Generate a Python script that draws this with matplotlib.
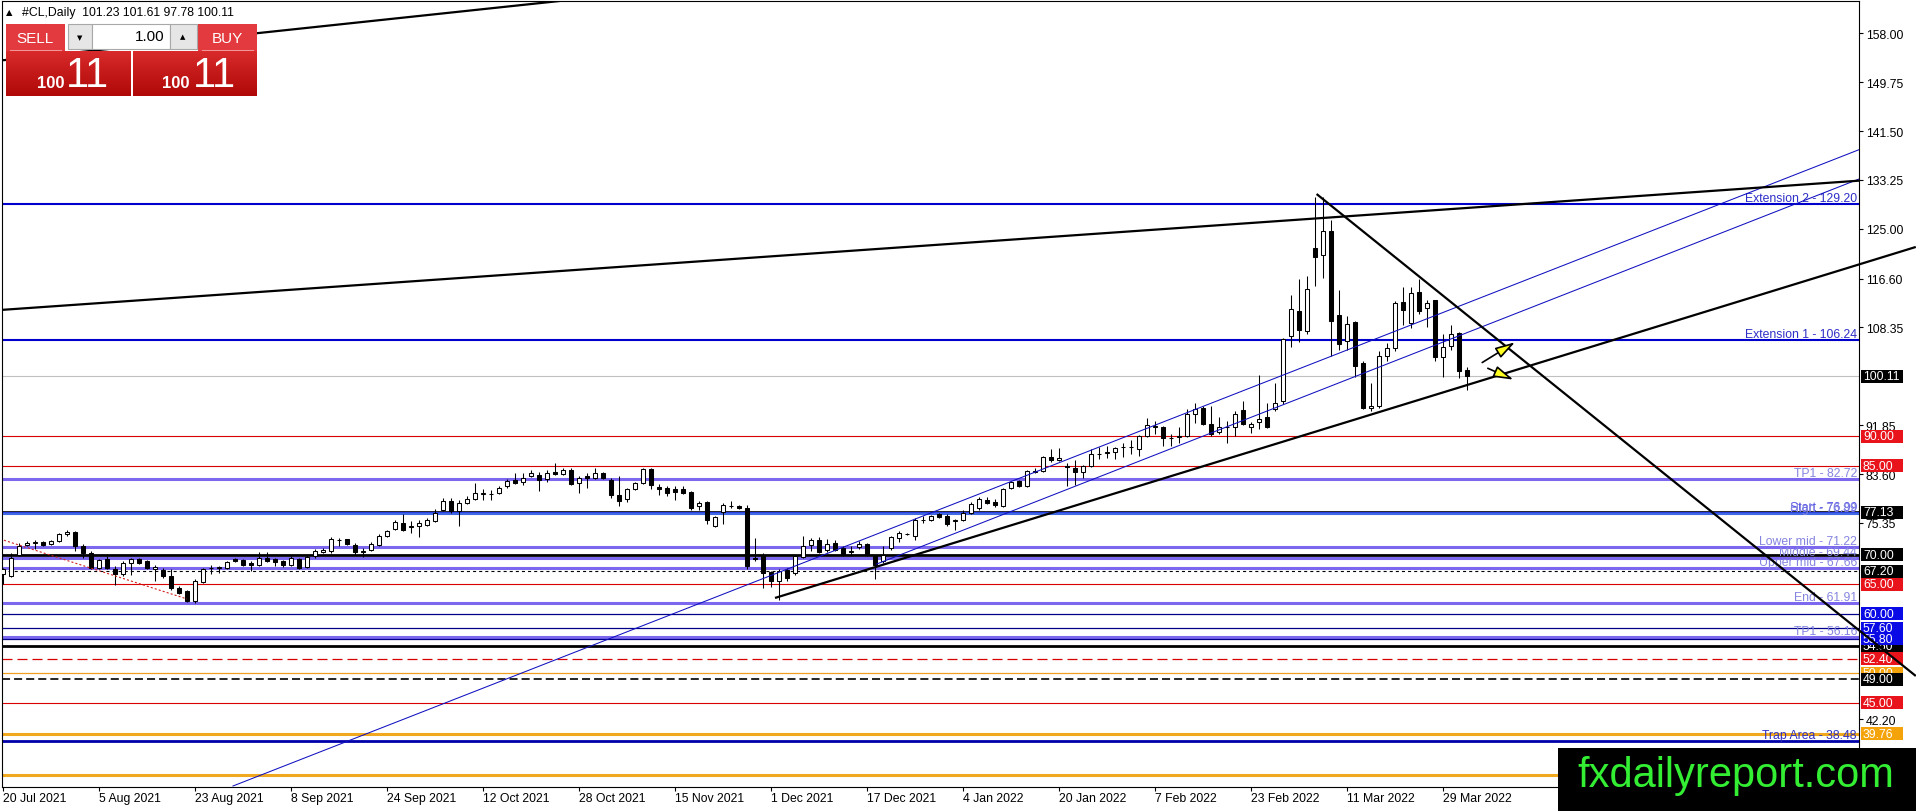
import matplotlib
matplotlib.use("Agg")
import matplotlib.pyplot as plt
import numpy as np
import pandas as pd
from matplotlib.patches import Rectangle
from matplotlib.transforms import blended_transform_factory
from matplotlib.colors import LinearSegmentedColormap

plt.rcParams['font.family'] = ['Liberation Sans', 'DejaVu Sans']
plt.rcParams['lines.scale_dashes'] = False

W, H = 1916, 812
FS = 8.8

# ---------- #CL daily candles (20 Jul 2021 .. 1 Apr 2022)
first_day = '2021-07-20'
opens = [66.8, 66.35, 70.0, 71.6, 72.0, 72.1, 71.8, 72.3, 73.4, 73.8,
         71.4, 70.3, 67.8, 69.2, 67.5, 66.8, 68.5, 69.2, 68.9, 67.5,
         67.4, 66.4, 64.4, 63.8, 62.1, 65.4, 67.7, 67.8, 67.8, 69.2,
         69.1, 68.5, 68.3, 69.45, 69.2, 68.9, 68.3, 69.3, 67.9, 69.7,
         70.4, 70.6, 72.4, 72.55, 71.6, 70.5, 70.85, 71.7, 73.1, 74.35,
         75.4, 74.6, 74.8, 75.0, 75.7, 77.5, 79.0, 77.3, 78.7, 79.4,
         80.3, 80.2, 80.4, 81.55, 82.56, 82.23, 83.35, 83.52, 82.8, 83.97,
         83.69, 84.36, 82.11, 83.24, 82.96, 83.8, 82.67, 80.14, 79.4, 81.1,
         82.1, 84.48, 81.44, 81.16, 80.99, 80.99, 80.6, 78.17, 78.85, 74.91,
         77.16, 78.2, 78.17, 77.9, 69.4, 69.8, 67.0, 65.5, 67.47, 66.9,
         69.6, 71.7, 72.5, 70.7, 72.0, 71.1, 70.5, 71.2, 71.8, 69.8,
         68.9, 71.1, 72.8, 73.5, 73.1, 75.8, 75.8, 76.8, 76.6, 75.7,
         75.9, 77.05, 77.9, 79.3, 78.9, 78.2, 81.3, 82.4, 81.55, 84.0,
         84.1, 86.5, 85.9, 84.9, 84.65, 83.9, 85.0, 87.0, 87.2, 87.3,
         88.1, 88.2, 87.9, 90.0, 91.6, 91.5, 89.6, 89.9, 90.0, 93.8,
         94.8, 92.0, 90.7, 91.5, 91.6, 94.4, 91.6, 92.4, 93.3, 94.5,
         95.9, 106.9, 111.2, 107.7, 121.7, 120.5, 124.6, 110.4, 106.0, 109.3,
         102.4, 94.8, 95.0, 103.5, 104.9, 112.7, 109.1, 114.4, 111.7, 112.9,
         103.4, 105.2, 107.4, 101.23]
highs = [67.8, 70.3, 72.0, 72.3, 72.4, 72.3, 72.5, 73.7, 74.2, 74.0,
         71.8, 70.6, 69.3, 69.7, 68.0, 68.9, 69.45, 69.4, 69.1, 68.2,
         67.7, 67.5, 64.7, 64.0, 65.9, 67.8, 68.3, 68.0, 69.0, 69.4,
         69.3, 68.9, 70.4, 70.4, 69.4, 69.1, 69.8, 69.5, 69.9, 70.9,
         71.1, 73.0, 72.8, 72.7, 71.9, 71.1, 72.1, 73.5, 74.2, 75.8,
         76.8, 75.6, 75.9, 76.1, 77.7, 79.5, 79.5, 79.2, 79.9, 82.1,
         81.0, 80.9, 81.6, 82.7, 83.8, 83.8, 84.3, 84.0, 84.2, 85.4,
         84.6, 84.6, 83.2, 83.8, 84.6, 84.0, 82.9, 83.2, 81.3, 82.3,
         84.6, 84.7, 82.0, 81.6, 81.5, 81.5, 80.8, 79.1, 79.1, 76.6,
         78.7, 79.0, 78.3, 78.3, 72.8, 70.3, 67.2, 67.5, 67.7, 70.0,
         73.1, 72.8, 72.9, 72.6, 72.5, 71.4, 71.4, 72.3, 72.0, 70.0,
         71.4, 73.1, 74.0, 73.7, 76.2, 76.6, 76.7, 77.0, 76.8, 76.0,
         77.6, 78.9, 79.8, 79.8, 79.4, 81.3, 82.5, 82.6, 84.3, 84.7,
         86.7, 87.9, 88.0, 85.5, 86.0, 85.1, 87.9, 88.2, 88.4, 88.2,
         88.8, 89.4, 90.2, 93.1, 92.5, 91.7, 90.3, 91.6, 94.6, 95.6,
         95.0, 95.1, 93.3, 92.5, 94.2, 95.9, 92.4, 100.4, 95.6, 99.0,
         106.5, 113.9, 116.5, 117.0, 130.4, 130.4, 126.5, 114.7, 110.2, 109.5,
         102.6, 99.0, 104.3, 105.7, 112.8, 115.1, 115.2, 116.5, 113.0, 113.0,
         107.3, 108.7, 107.6, 101.61]
lows = [65.0, 66.2, 69.7, 71.4, 70.9, 71.5, 71.6, 72.1, 73.1, 70.6,
        69.4, 67.6, 67.6, 67.6, 64.9, 66.4, 66.6, 68.4, 67.6, 65.5,
        66.1, 64.1, 63.4, 62.0, 61.9, 65.2, 66.8, 66.9, 67.6, 68.7,
        68.1, 67.2, 68.1, 68.7, 68.0, 67.9, 68.1, 67.5, 67.7, 69.5,
        70.2, 70.3, 71.4, 71.6, 70.0, 69.6, 70.6, 71.5, 72.9, 74.1,
        74.0, 73.7, 73.0, 74.8, 75.5, 77.3, 77.1, 74.8, 78.5, 79.2,
        79.3, 79.2, 80.2, 81.3, 81.9, 81.7, 83.1, 80.7, 82.3, 83.4,
        83.4, 81.8, 80.4, 81.3, 82.7, 82.8, 79.6, 78.2, 78.9, 80.9,
        81.9, 81.0, 80.14, 79.9, 79.3, 80.2, 77.5, 77.6, 75.1, 74.7,
        75.1, 77.9, 77.7, 67.6, 68.9, 64.4, 64.6, 62.4, 65.5, 66.6,
        69.4, 70.6, 70.2, 70.5, 70.6, 69.7, 69.8, 70.9, 69.7, 65.8,
        68.6, 70.8, 72.2, 73.3, 72.5, 75.35, 75.6, 76.2, 74.9, 74.2,
        75.7, 76.8, 77.6, 78.5, 78.0, 78.0, 81.1, 81.4, 81.4, 83.8,
        83.9, 85.7, 85.8, 81.5, 81.7, 82.9, 84.8, 86.2, 86.3, 86.2,
        86.5, 86.9, 86.6, 89.8, 90.3, 88.3, 88.3, 88.8, 89.8, 92.2,
        91.9, 90.0, 90.3, 88.9, 90.0, 91.8, 90.5, 91.2, 91.4, 94.2,
        95.5, 105.1, 105.9, 107.3, 115.3, 116.7, 103.6, 104.6, 104.6, 100.0,
        94.5, 94.3, 94.8, 102.6, 104.4, 108.7, 108.3, 110.6, 108.4, 102.6,
        100.0, 104.5, 99.8, 97.78]
closes = [67.6, 69.45, 71.5, 72.0, 72.1, 71.7, 72.3, 73.4, 73.8, 71.4,
          70.3, 67.8, 69.05, 67.8, 66.8, 68.5, 69.2, 68.6, 67.8, 67.9,
          66.35, 64.4, 63.6, 62.1, 65.5, 67.5, 67.8, 67.85, 68.7, 68.9,
          68.3, 68.2, 69.45, 68.9, 68.7, 68.3, 69.45, 67.8, 69.6, 70.6,
          70.85, 72.55, 72.5, 71.8, 70.4, 70.6, 71.8, 73.2, 73.95, 75.5,
          74.2, 74.8, 75.25, 75.8, 77.0, 79.0, 77.3, 78.7, 79.4, 80.4,
          80.4, 80.25, 81.27, 82.39, 82.1, 82.96, 83.8, 82.67, 83.8, 83.63,
          84.36, 82.0, 82.96, 82.96, 83.8, 82.96, 80.14, 79.0, 81.1, 82.1,
          84.48, 81.83, 80.99, 80.42, 80.54, 80.42, 77.9, 78.73, 75.92, 76.31,
          78.45, 78.28, 77.9, 68.04, 69.3, 66.9, 65.5, 67.2, 66.07, 69.7,
          71.5, 72.5, 70.4, 71.8, 70.85, 70.0, 70.6, 71.75, 70.0, 68.3,
          69.9, 72.9, 73.7, 73.55, 75.9, 75.8, 76.5, 76.4, 75.1, 75.8,
          77.05, 78.5, 79.4, 78.7, 78.3, 81.1, 82.2, 81.55, 84.1, 84.1,
          86.5, 85.9, 86.3, 84.8, 83.9, 84.9, 87.0, 87.05, 87.3, 88.0,
          88.2, 88.1, 90.0, 91.8, 91.7, 89.7, 89.7, 90.0, 93.8, 94.5,
          92.0, 90.4, 91.6, 91.6, 93.8, 92.0, 92.1, 92.9, 91.6, 95.6,
          106.4, 111.4, 107.9, 114.9, 120.2, 124.7, 109.4, 105.6, 109.0, 101.8,
          94.8, 95.0, 103.6, 104.9, 112.5, 111.3, 114.2, 111.2, 112.5, 103.3,
          105.0, 107.3, 101.0, 100.11]

date_labels = ['20 Jul 2021', '5 Aug 2021', '23 Aug 2021', '8 Sep 2021',
               '24 Sep 2021', '12 Oct 2021', '28 Oct 2021', '15 Nov 2021',
               '1 Dec 2021', '17 Dec 2021', '4 Jan 2022', '20 Jan 2022',
               '7 Feb 2022', '23 Feb 2022', '11 Mar 2022', '29 Mar 2022']
price_ticks = [158.00, 149.75, 141.50, 133.25, 125.00, 116.60, 108.35,
               91.85, 83.60, 75.35, 42.20]

# ---------- horizontal levels
level_prices = [129.20, 106.24, 100.11, 90.00, 85.00, 82.72, 77.13, 76.99,
                76.89, 71.22, 70.00, 69.44, 67.66, 67.20, 65.00, 61.91,
                60.00, 57.60, 56.16, 55.80, 54.50, 52.40, 50.00, 49.00,
                45.00, 39.76, 38.48, 32.85]
level_colors = ['#0000cd', '#0000cd', '#c0c0c0', '#d80000', '#d80000', '#7b68ee',
                'black', '#2a3fe6', '#4169e1', '#7b68ee', 'black', '#7b68ee',
                '#7b68ee', 'black', '#d80000', '#7b68ee', '#00008b', '#00008b',
                '#7b68ee', '#00008b', 'black', '#d80000', '#f0a020', 'black',
                '#d80000', '#f0a81e', '#0000aa', '#f0a81e']
level_widths = [1.5, 1.5, 0.8, 0.8, 0.8, 2.2, 1.2, 1.5, 1.5, 2.2, 2.0, 2.2,
                2.2, 0.8, 0.8, 2.2, 0.9, 0.9, 2.2, 0.9, 2.0, 0.9, 0.9, 1.2,
                0.8, 2.2, 2.0, 2.2]
level_dashes = {67.20: (2.2, 2.2), 52.40: (7.2, 3.6), 49.00: (5.8, 2.9)}

name_prices = [129.20, 106.24, 82.72, 76.99, 76.89, 71.22, 69.44, 67.66,
               61.91, 56.16, 38.48]
name_texts = ['Extension 2 - 129.20', 'Extension 1 - 106.24', 'TP1 - 82.72',
              'Start - 76.99', 'High - 76.89', 'Lower mid - 71.22',
              'Middle - 69.44', 'Upper mid - 67.66', 'End - 61.91',
              'TP1 - 56.16', 'Trap Area - 38.48']
name_colors = ['#2e2ec8', '#2e2ec8', '#8585e0', '#5050e8', '#8585e0', '#8585e0',
               '#8585e0', '#8585e0', '#8585e0', '#8585e0', '#3030c0']

# price boxes on the axis, in drawing order
box_prices = [54.50, 50.00, 100.11, 90.00, 85.00, 77.13, 70.00, 67.20, 65.00,
              60.00, 57.60, 55.80, 52.40, 49.00, 45.00, 39.76]
box_colors = ['black', '#f5a30a', 'black', '#e8131b', '#e8131b', 'black', 'black',
              'black', '#e8131b', '#0a0ae6', '#0a0ae6', '#0a0ae6', '#e8131b',
              'black', '#e8131b', '#f5a30a']

# ---------- trendlines: (bar, price) start / end
trend_start = [(-0.25, 111.3), (0.0, 153.45), (96.5, 62.68), (164.2, 130.87)]
trend_end = [(232.0, 133.12), (72.0, 163.8), (239.1, 121.93), (239.1, 49.51)]
channel_start = [(28.75, 30.94), (109.2, 68.4)]
channel_end = [(232.0, 138.35), (232.0, 133.4)]
dotted_start, dotted_end = (-0.375, 72.64), (23.0, 62.51)
arrow_tails = [(184.9, 102.42), (185.6, 101.45)]
arrow_tips = [(189.0, 105.84), (188.8, 99.53)]

# ---------- figure
fig = plt.figure(figsize=(W / 100, H / 100), dpi=100)
ax = fig.add_axes([2 / W, (H - 788) / H, 1857 / W, 786 / H])
ax.set_xlim(-0.125, 232.0)
ax.set_ylim(30.77, 163.45)
for sp in ax.spines.values():
    sp.set_linewidth(0.8)
    sp.set_color('black')

ov = fig.add_axes([0, 0, 1, 1], zorder=10)
ov.set_xlim(0, W)
ov.set_ylim(H, 0)
ov.axis('off')
ov.patch.set_alpha(0)
pix_y = blended_transform_factory(ov.transData, ax.transData)

# horizontal levels
for p, col, lw in zip(level_prices, level_colors, level_widths):
    ln = ax.axhline(p, color=col, lw=lw, zorder=2)
    if p in level_dashes:
        ln.set_dashes(level_dashes[p])

for p, t, col in zip(name_prices, name_texts, name_colors):
    ax.text(1857, p, t, transform=pix_y, ha='right', va='bottom',
            fontsize=FS, color=col, zorder=3)

# candles
bars = pd.bdate_range(first_day, periods=len(closes))
idx = np.arange(len(bars))
o = np.array(opens)
c = np.array(closes)
up = c >= o
ax.vlines(idx, lows, highs, color='black', lw=0.75, zorder=4)
lo = np.minimum(o, c)
hgt = np.abs(c - o)
ax.bar(idx[up], hgt[up], bottom=lo[up], width=0.6, color='white',
       edgecolor='black', linewidth=0.75, zorder=5)
ax.bar(idx[~up], hgt[~up], bottom=lo[~up], width=0.6, color='black',
       edgecolor='black', linewidth=0.75, zorder=5)

# trendlines
for (x0, y0), (x1, y1) in zip(trend_start, trend_end):
    ax.plot([x0, x1], [y0, y1], color='black', lw=1.6, zorder=9,
            solid_capstyle='butt', clip_on=(x1 <= 232.0))
for (x0, y0), (x1, y1) in zip(channel_start, channel_end):
    ax.plot([x0, x1], [y0, y1], color='#1010c0', lw=0.75, zorder=6)
ax.plot([dotted_start[0], dotted_end[0]], [dotted_start[1], dotted_end[1]],
        color='#d02020', lw=0.8, dashes=(1.5, 1.5), zorder=6)
for tail, tip in zip(arrow_tails, arrow_tips):
    ax.annotate('', xy=tip, xytext=tail, zorder=9,
                arrowprops=dict(arrowstyle='-|>,head_length=1.2,head_width=0.35',
                                mutation_scale=10, fc='#ffff20', ec='black',
                                lw=1.2, shrinkA=0, shrinkB=0))

# axes ticks
pos = [bars.get_loc(pd.Timestamp(d)) for d in date_labels]
ax.set_xticks(pos)
ax.set_xticklabels(date_labels, ha='left')
ax.tick_params(axis='x', length=2.9, width=0.8, pad=0.5, labelsize=FS)
ax.yaxis.tick_right()
ax.set_yticks(price_ticks)
ax.set_yticklabels(['%.2f' % v for v in price_ticks])
ax.tick_params(axis='y', length=2.9, width=0.8, pad=2, labelsize=FS)

# price boxes on the right scale
unit_px = 786 / (163.45 - 30.77)
bh = 13 / unit_px
for p, col in zip(box_prices, box_colors):
    ax.add_patch(Rectangle((1861, p - bh / 2), 42, bh, transform=pix_y,
                           facecolor=col, edgecolor='none', clip_on=False, zorder=7))
    ax.text(1863, p, '%.2f' % p, transform=pix_y, ha='left', va='center',
            fontsize=FS, color='white', clip_on=False, zorder=7)

# ---------- header and one-click trading panel
ov.text(6, 13, '\u25b2', fontsize=6, va='center', ha='left', color='black',
        family=['DejaVu Sans'])
ov.text(22, 13, '#CL,Daily  101.23 101.61 97.78 100.11', fontsize=FS,
        va='center', ha='left')
red_grad = LinearSegmentedColormap.from_list('rg', ['#d82a2a', '#b00808'])
for x0, w in [(6, 125), (133, 124)]:
    ov.imshow(np.linspace(0, 1, 32).reshape(-1, 1), cmap=red_grad, aspect='auto',
              extent=(x0, x0 + w, 97, 52), zorder=2)
for x0 in (6, 198):
    ov.add_patch(Rectangle((x0, 25), 59, 27, facecolor='#e23a3e', edgecolor='none', zorder=2))
    ov.plot([x0 + 4, x0 + 55], [51, 51], color='#f29a9a', lw=0.7, zorder=3)
for x0, w in [(68, 24), (92, 78), (170, 27)]:
    ov.add_patch(Rectangle((x0, 25), w, 25, facecolor='white' if w > 30 else '#e6e6e6',
                           edgecolor='#a8a8a8', lw=0.8, zorder=2))
ov.text(80, 38, '\u25bc', fontsize=5, ha='center', va='center', family=['DejaVu Sans'])
ov.text(183, 37, '\u25b2', fontsize=5, ha='center', va='center', family=['DejaVu Sans'])
ov.text(165, 37, '1.00', fontsize=11, ha='right', va='center')
ov.text(35, 39, 'SELL', fontsize=11, ha='center', va='center', color='white')
ov.text(227, 39, 'BUY', fontsize=11, ha='center', va='center', color='white')
for xs, xb in [(51, 87), (176, 214)]:
    ov.text(xs, 83, '100', fontsize=12, fontweight='bold', ha='center',
            va='center', color='white')
    ov.text(xb, 76, '11', fontsize=30, ha='center', va='center', color='white')

# watermark
ov.add_patch(Rectangle((1558, 749), W - 1558, H - 749, facecolor='black', zorder=5))
ov.text(1736, 776, 'fxdailyreport.com', fontsize=30, color='#33ee33',
        ha='center', va='center', zorder=6)
ov.set_xlim(0, W)
ov.set_ylim(H, 0)

fig.savefig('out.png', dpi=100, facecolor='white')
